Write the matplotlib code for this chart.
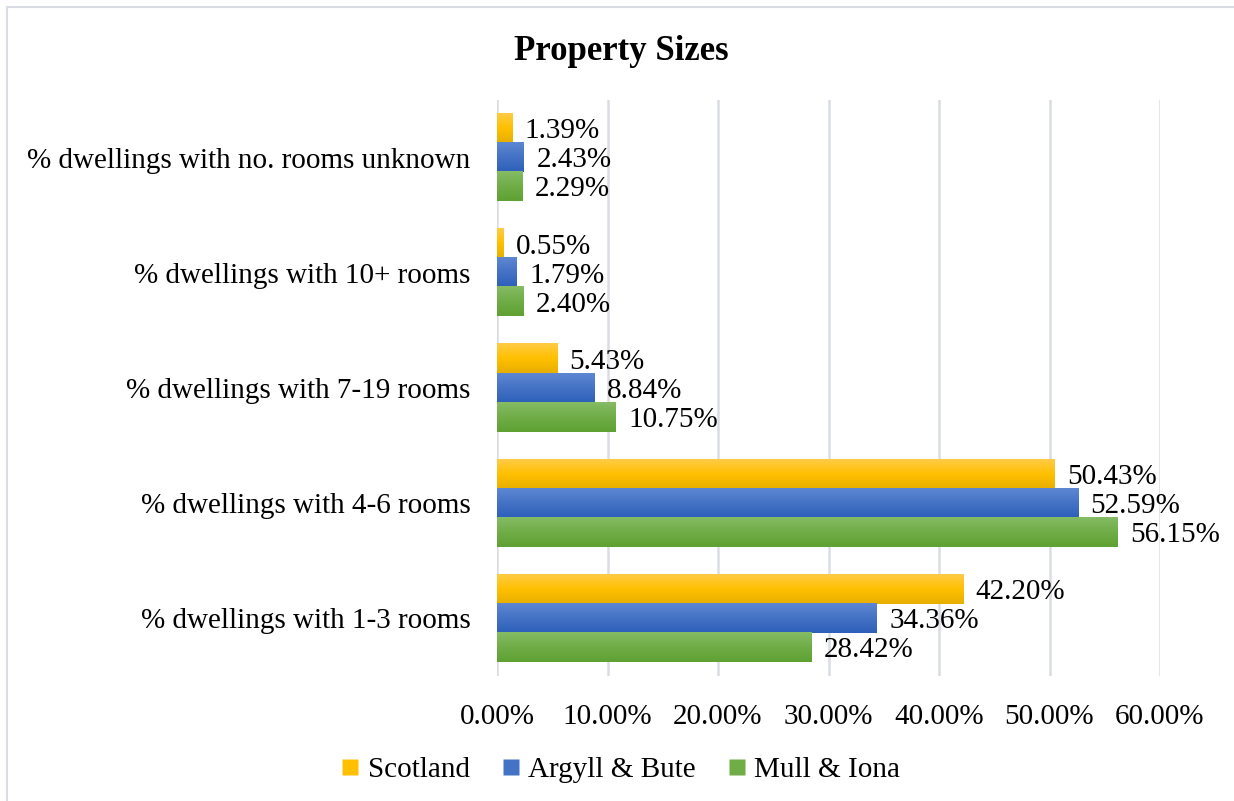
import numpy as np
import matplotlib.pyplot as plt
from matplotlib.lines import Line2D
from matplotlib.colors import LinearSegmentedColormap

categories = ["% dwellings with 1-3 rooms", "% dwellings with 4-6 rooms",
              "% dwellings with 7-19 rooms", "% dwellings with 10+ rooms",
              "% dwellings with no. rooms unknown"]
series = ["Scotland", "Argyll & Bute", "Mull & Iona"]
scotland = [42.20, 50.43, 5.43, 0.55, 1.39]
argyll = [34.36, 52.59, 8.84, 1.79, 2.43]
mull = [28.42, 56.15, 10.75, 2.40, 2.29]

# (top, middle, bottom) colours of the Excel-style gradient fills
grads = [("#FFCB45", "#FFC000", "#E8AF00"),
         ("#5D87D3", "#4472C4", "#2E60BA"),
         ("#85BC65", "#70AD47", "#5FA133")]
solid = ["#FFC000", "#4472C4", "#70AD47"]

plt.rcParams["font.family"] = ["Liberation Serif", "DejaVu Serif"]
fs = 21

fig = plt.figure(figsize=(12.34, 8.01), dpi=100)
ax = fig.add_axes([497 / 1234, 1 - 676 / 801, 663 / 1234, 576 / 801])

y = np.arange(len(categories))
h = 0.252
offsets = [h, 0, -h]
for vals, off, g in zip([scotland, argyll, mull], offsets, grads):
    bars = ax.barh(y + off, vals, height=h, color="none", edgecolor="none")
    cmap = LinearSegmentedColormap.from_list("g", [g[0], g[1], g[2]])
    for b, v in zip(bars, vals):
        x0, y0 = b.get_x(), b.get_y()
        ax.imshow(np.linspace(0, 1, 50).reshape(-1, 1)[::-1], cmap=cmap,
                  extent=[x0, x0 + b.get_width(), y0, y0 + b.get_height()],
                  aspect="auto", zorder=2, origin="lower")
        ax.annotate(f"{v:.2f}%", (x0 + b.get_width(), y0 + b.get_height() / 2),
                    xytext=(9, -2), textcoords="offset points", va="center",
                    ha="left", fontsize=fs, zorder=3)

ax.set_xlim(0, 60)
ax.set_ylim(-0.5, 4.5)
ax.set_xticks(np.arange(0, 61, 10))
ax.set_xticklabels([f"{t:.2f}%" for t in np.arange(0, 61, 10)], fontsize=fs)
ax.set_yticks(y)
ax.set_yticklabels(categories, fontsize=fs)
ax.tick_params(length=0, pad=19)
ax.tick_params(axis="x", pad=20)
ax.grid(axis="x", color="#D9DDE3", linewidth=1.8, zorder=0)
ax.set_axisbelow(True)
for s in ax.spines.values():
    s.set_visible(False)

fig.text(621 / 1234, 1 - 52 / 801, "Property Sizes", ha="center", va="center",
         fontsize=25, fontweight="bold")

handles = [Line2D([], [], marker="s", linestyle="none", markersize=11,
                  markerfacecolor=c, markeredgecolor="none") for c in solid]
fig.legend(handles, series, loc="center", bbox_to_anchor=(621 / 1234, 1 - 770 / 801),
           ncol=3, frameon=False, fontsize=fs, handlelength=0.6,
           handletextpad=0.3, columnspacing=1.1)

# chart-area border (only left and top edges visible)
fig.add_artist(Line2D([6.5 / 1234, 6.5 / 1234], [0, 1 - 7 / 801],
                      color="#D9DDE3", linewidth=1.5, transform=fig.transFigure))
fig.add_artist(Line2D([6.5 / 1234, 1], [1 - 7 / 801, 1 - 7 / 801],
                      color="#D9DDE3", linewidth=1.5, transform=fig.transFigure))

fig.savefig("out.png", dpi=100)
